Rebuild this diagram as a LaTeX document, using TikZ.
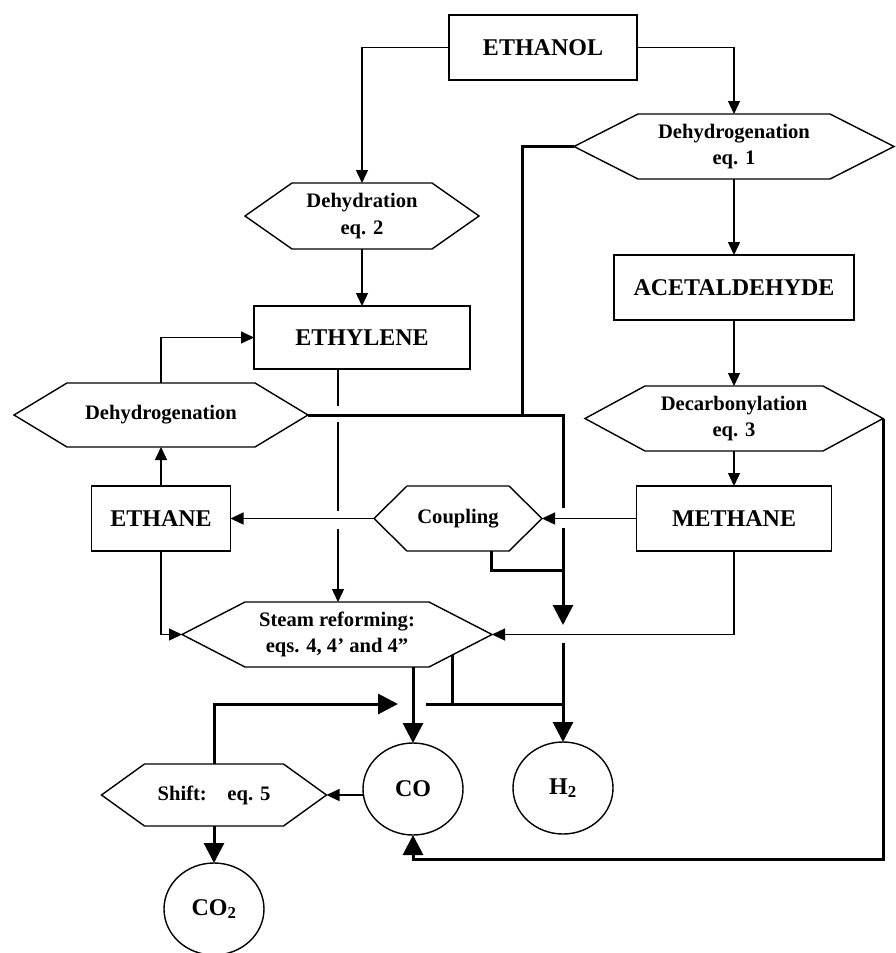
\documentclass[tikz,border=0pt]{standalone}
\usepackage{fontspec}
\setmainfont{Liberation Serif}
\usetikzlibrary{arrows.meta,calc,shapes.geometric}
\newcommand\labbig{\bfseries\fontsize{24}{28}\selectfont}
\newcommand\labsmall{\bfseries\fontsize{20.6}{26.5}\selectfont}
\newcommand\hexnode[7]{%
  \node[hexlab, minimum width=#4pt, minimum height=#5pt] (#1) at (#2,#3) {#7};
  \draw[thinln, line join=miter] (#1.west) -- ([xshift=#6pt]#1.north west) -- ([xshift=-#6pt]#1.north east) -- (#1.east) -- ([xshift=-#6pt]#1.south east) -- ([xshift=#6pt]#1.south west) -- cycle;
}
\begin{document}
\begin{tikzpicture}[x=1pt,y=-1pt,
  thinln/.style={line width=1.4pt},
  thickln/.style={line width=3pt},
  tarr/.style={thinln,-{Triangle[length=13pt,width=12pt]}},
  karr/.style={thickln,-{Triangle[length=20pt,width=20pt]}},
  boxnode/.style={draw,line width=1.4pt,inner sep=0pt,outer sep=0pt,font=\labbig},
  hexlab/.style={inner sep=0pt,outer sep=0pt,align=center,font=\labsmall},
  circ/.style={draw,ellipse,line width=1.4pt,inner sep=0pt,outer sep=0pt,minimum width=100pt,minimum height=92pt,font=\labbig}]
\useasboundingbox (0,0) rectangle (895,953);
% boxes
\node[boxnode,minimum width=188pt,minimum height=65pt] (ethanol) at (543,47.5) {ETHANOL};
\node[boxnode,minimum width=240pt,minimum height=65pt] (acet) at (734,287.5) {ACETALDEHYDE};
\node[boxnode,minimum width=195pt,minimum height=65pt] (methane) at (734,518.5) {METHANE};
\node[boxnode,minimum width=216pt,minimum height=63pt] (ethylene) at (362,337.5) {ETHYLENE};
\node[boxnode,minimum width=139pt,minimum height=65pt] (ethane) at (161,518.5) {ETHANE};
% hexagons
\hexnode{dehyd1}{734}{146.5}{320}{65}{64}{Dehydrogenation\\eq. 1}
\hexnode{dehydration}{362}{216}{234}{66}{47}{Dehydration\\eq. 2}
\hexnode{decarb}{734}{418.5}{298}{65}{60}{Decarbonylation\\eq. 3}
\hexnode{dehydL}{161}{415}{294}{64}{53}{Dehydrogenation}
\hexnode{coupling}{458}{518.5}{168}{65}{33}{Coupling}
\hexnode{sr}{337}{634.5}{310}{65}{63}{Steam reforming:\\eqs. 4, 4' and 4''}
\hexnode{shift}{214}{795}{225}{62}{43}{Shift:\hspace{1em}eq. 5}
% circles
\node[circ] (co) at (413,789) {CO};
\node[circ] (h2) at (563,788) {H\textsubscript{2}};
\node[circ] (co2) at (214,909) {CO\textsubscript{2}};
% thin connectors
\draw[tarr] (ethanol.west) -| (dehydration.north);
\draw[tarr] (ethanol.east) -| (dehyd1.north);
\draw[tarr] (dehyd1.south) -- (acet.north);
\draw[tarr] (acet.south) -- (decarb.north);
\draw[tarr] (decarb.south) -- (methane.north);
\draw[tarr] (dehydration.south) -- (ethylene.north);
\draw[tarr] (dehydL.north) |- (ethylene.west);
\draw[tarr] (ethane.north) -- (dehydL.south);
\draw[tarr] (methane.west) -- (coupling.east);
\draw[tarr] (coupling.west) -- (ethane.east);
\draw[tarr] (ethane.south) |- (sr.west);
\draw[tarr] (methane.south) |- (sr.east);
\coordinate (ey) at ([xshift=-24pt]ethylene.south);
\draw[thinln] (ey) -- ($(ey)+(0,37)$);
\draw[thinln] ($(ey)+(0,53)$) -- ($(ey)+(0,142)$);
\draw[tarr] ($(ey)+(0,160)$) -- (ey |- sr.north);
\draw[tarr] (shift.east -| co.west) -- (shift.east);
% thick connectors
\coordinate (jA) at (522,415);
\coordinate (jB) at (563,415);
\coordinate (hA) at (563,508);
\coordinate (hB) at (563,528);
\coordinate (hC) at (563,625);
\coordinate (hD) at (563,643);
\coordinate (jC) at (563,570);
\coordinate (jD) at (563,704);
\coordinate (gR) at (426,704);
\coordinate (gL) at (398,704);
\coordinate (bR) at (883,859);
\draw[thickln] (dehyd1.west) -| (jA);
\draw[thickln] (dehydL.east) -- (jB) -- (hA);
\draw[karr] (hB) -- (hC);
\draw[thickln] ([xshift=33pt]coupling.south) |- (jC);
\draw[karr] (hD) -- (h2.north);
\draw[karr] (co.north |- sr.south) -- (co.north);
\coordinate (sp) at ($([xshift=-63pt]sr.south east)!0.365!(sr.east)$);
\draw[thickln] (sp) -- (sp |- jD);
\draw[thickln] (gR) -- (jD);
\draw[karr] (shift.north) |- (gL);
\draw[karr] (shift.south) -- (co2.north);
\draw[karr] (decarb.east) -- (decarb.east |- bR) -| (co.south);
\end{tikzpicture}
\end{document}
